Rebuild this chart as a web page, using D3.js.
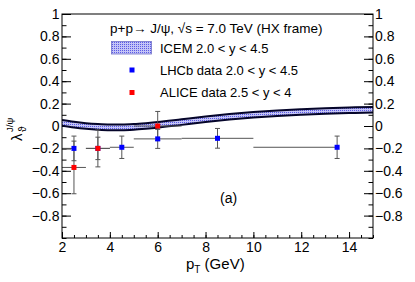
<!DOCTYPE html>
<html>
<head>
<meta charset="utf-8">
<script src="https://cdn.jsdelivr.net/npm/d3@7"></script>
<style>
  body { margin: 0; background: #fff; }
  svg { display: block; font-family: "Liberation Sans", Arial, sans-serif; }
</style>
</head>
<body>
<div id="chart"></div>
<script>
// ICEM band (lambda_theta vs pT)
const icemPt = [2, 2.5, 3, 3.5, 4, 4.5, 5, 5.5, 6, 7, 8, 9, 10, 11, 12, 13, 14, 15];
const icemLo = [0.003, -0.013, -0.025, -0.033, -0.037, -0.037, -0.033, -0.025, -0.015, 0.01, 0.035, 0.057, 0.075, 0.089, 0.1, 0.109, 0.115, 0.12];
const icemHi = [0.053, 0.037, 0.025, 0.017, 0.013, 0.013, 0.017, 0.025, 0.035, 0.06, 0.085, 0.107, 0.125, 0.139, 0.15, 0.159, 0.165, 0.17];

// LHCb data 2.0 < y < 4.5
const lhcbPt = [2.5, 3.5, 4.5, 6, 8.5, 13.5];
const lhcbXlo = [2, 3, 4, 5, 7, 10];
const lhcbXhi = [2.5, 4, 5, 7, 10, 13.5];
const lhcbVal = [-0.2, -0.2, -0.19, -0.115, -0.11, -0.19];
const lhcbErr = [0.11, 0.165, 0.1, 0.085, 0.088, 0.1];

// ALICE data 2.5 < y < 4
const alicePt = [2.5, 3.5, 6];
const aliceXlo = [2, 3, 5];
const aliceXhi = [3, 4, 7];
const aliceVal = [-0.37, -0.2, 0.0];
const aliceErr = [0.235, 0.1, 0.13];

const yTicks = [-0.8, -0.6, -0.4, -0.2, 0, 0.2, 0.4, 0.6, 0.8, 1];
const yTickLabels = ["\u22120.8", "\u22120.6", "\u22120.4", "\u22120.2", "0", "0.2", "0.4", "0.6", "0.8", "1"];
const xTicks = [2, 4, 6, 8, 10, 12, 14];

const W = 415, H = 282;
const m = { left: 62, right: 373, top: 14, bottom: 238 };

const svg = d3.select('#chart').append('svg')
  .attr('width', W)
  .attr('height', H);

const x = d3.scaleLinear().domain([2, 15]).range([m.left, m.right]);
const y = d3.scaleLinear().domain([-1, 1]).range([m.bottom, m.top]);

// dotted fill pattern for the band
const defs = svg.append('defs');
const pat = defs.append('pattern')
  .attr('id', 'dots')
  .attr('width', 2).attr('height', 2)
  .attr('patternUnits', 'userSpaceOnUse');
pat.append('rect').attr('width', 2).attr('height', 2).attr('fill', '#c4c4f6');
pat.append('rect').attr('width', 1).attr('height', 1).attr('fill', '#5a5ae6');

defs.append('clipPath').attr('id', 'clip')
  .append('rect')
  .attr('x', m.left).attr('y', m.top)
  .attr('width', m.right - m.left).attr('height', m.bottom - m.top);

// axes (ROOT style, ticks pointing inside)
const minorY = d3.range(-10, 11).map(d => d / 10);
const minorX = d3.range(4, 31).map(d => d / 2);

function tickStyle(g) {
  g.select('.domain').remove();
  g.selectAll('line').attr('stroke', '#000');
  g.selectAll('text').attr('fill', '#000').style('font-size', '14px');
}

svg.append('g')
  .attr('transform', `translate(${m.left},0)`)
  .call(d3.axisLeft(y).tickValues(minorY).tickSize(-4.5).tickFormat(''))
  .call(tickStyle);
svg.append('g')
  .attr('transform', `translate(${m.left},0)`)
  .call(d3.axisLeft(y).tickValues(yTicks).tickSize(-9).tickPadding(2.5)
    .tickFormat((d, i) => yTickLabels[i]))
  .call(tickStyle);

svg.append('g')
  .attr('transform', `translate(${m.right},0)`)
  .call(d3.axisRight(y).tickValues(minorY).tickSize(-4.5).tickFormat(''))
  .call(tickStyle);
svg.append('g')
  .attr('transform', `translate(${m.right},0)`)
  .call(d3.axisRight(y).tickValues(yTicks).tickSize(-9).tickPadding(2)
    .tickFormat((d, i) => yTickLabels[i]))
  .call(tickStyle);

svg.append('g')
  .attr('transform', `translate(0,${m.bottom})`)
  .call(d3.axisBottom(x).tickValues(minorX).tickSize(-3).tickFormat(''))
  .call(tickStyle);
svg.append('g')
  .attr('transform', `translate(0,${m.bottom})`)
  .call(d3.axisBottom(x).tickValues(xTicks).tickSize(-6).tickPadding(4.5).tickFormat(d3.format('d')))
  .call(tickStyle);

// ICEM band
const plot = svg.append('g').attr('clip-path', 'url(#clip)');
const bandData = icemPt.map((p, i) => ({ p, lo: icemLo[i], hi: icemHi[i] }));

plot.append('path')
  .datum(bandData)
  .attr('fill', 'url(#dots)')
  .attr('d', d3.area().curve(d3.curveMonotoneX)
    .x(d => x(d.p)).y0(d => y(d.lo)).y1(d => y(d.hi)));
['lo', 'hi'].forEach(k => {
  plot.append('path')
    .datum(bandData)
    .attr('fill', 'none')
    .attr('stroke', '#05052a')
    .attr('stroke-width', 2)
    .attr('d', d3.line().curve(d3.curveMonotoneX).x(d => x(d.p)).y(d => y(d[k])));
});

// error bars and markers
function drawSeries(pt, xlo, xhi, val, err, color) {
  const pts = pt.map((p, i) => ({ p, xlo: xlo[i], xhi: xhi[i], v: val[i], e: err[i] }));
  const g = svg.append('g');
  const eb = g.selectAll('g.eb').data(pts).enter().append('g')
    .attr('stroke', '#555').attr('stroke-width', 1);
  eb.append('line')
    .attr('x1', d => x(d.xlo)).attr('x2', d => x(d.xhi))
    .attr('y1', d => y(d.v)).attr('y2', d => y(d.v));
  eb.append('line')
    .attr('x1', d => x(d.p)).attr('x2', d => x(d.p))
    .attr('y1', d => y(d.v - d.e)).attr('y2', d => y(d.v + d.e));
  [-1, 1].forEach(s => {
    eb.append('line')
      .attr('x1', d => x(d.p) - 2.5).attr('x2', d => x(d.p) + 2.5)
      .attr('y1', d => y(d.v + s * d.e)).attr('y2', d => y(d.v + s * d.e));
  });
  return { g, pts, color };
}

const series = [
  drawSeries(lhcbPt, lhcbXlo, lhcbXhi, lhcbVal, lhcbErr, '#0000ff'),
  drawSeries(alicePt, aliceXlo, aliceXhi, aliceVal, aliceErr, '#ff0000')
];
series.forEach(s => {
  svg.append('g').selectAll('rect').data(s.pts).enter().append('rect')
    .attr('x', d => x(d.p) - 2.5).attr('y', d => y(d.v) - 2.5)
    .attr('width', 5).attr('height', 5)
    .attr('fill', s.color);
});

// frame
svg.append('rect')
  .attr('x', m.left).attr('y', m.top)
  .attr('width', m.right - m.left).attr('height', m.bottom - m.top)
  .attr('fill', 'none').attr('stroke', '#000').attr('stroke-width', 1);

// legend
svg.append('text')
  .attr('x', 110).attr('y', 33)
  .style('font-size', '13.5px')
  .text('p+p\u2192 J/\u03c8, \u221as = 7.0 TeV (HX frame)');

svg.append('rect')
  .attr('x', 111.5).attr('y', 41.5).attr('width', 40).attr('height', 12.5)
  .attr('fill', 'url(#dots)').attr('stroke', '#7070c8').attr('stroke-width', 0.8);
svg.append('text').attr('x', 160).attr('y', 52.5).style('font-size', '13px')
  .text('ICEM 2.0 < y < 4.5');

svg.append('rect').attr('x', 129.5).attr('y', 67.5).attr('width', 5).attr('height', 5).attr('fill', '#0000ff');
svg.append('text').attr('x', 160).attr('y', 74.5).style('font-size', '13px')
  .text('LHCb data 2.0 < y < 4.5');

svg.append('rect').attr('x', 129.5).attr('y', 90).attr('width', 5).attr('height', 5).attr('fill', '#ff0000');
svg.append('text').attr('x', 160).attr('y', 97).style('font-size', '13px')
  .text('ALICE data 2.5 < y < 4');

svg.append('text').attr('x', 220).attr('y', 203).style('font-size', '14px').text('(a)');

// axis titles
const xt = svg.append('text').attr('x', 186).attr('y', 268.5).style('font-size', '15px');
xt.append('tspan').text('p');
xt.append('tspan').attr('dy', 4.5).style('font-size', '10px').text('T');
xt.append('tspan').attr('dy', -4.5).text(' (GeV)');

const yt = svg.append('g').attr('transform', 'translate(22,141) rotate(-90)');
yt.append('text').attr('x', 0).attr('y', 0).style('font-size', '15px').text('\u03bb');
yt.append('text').attr('x', 9).attr('y', 4).style('font-size', '10px').text('\u03d1');
yt.append('text').attr('x', 9).attr('y', -9).style('font-size', '9.5px').text('J/\u03c8');
</script>
</body>
</html>
